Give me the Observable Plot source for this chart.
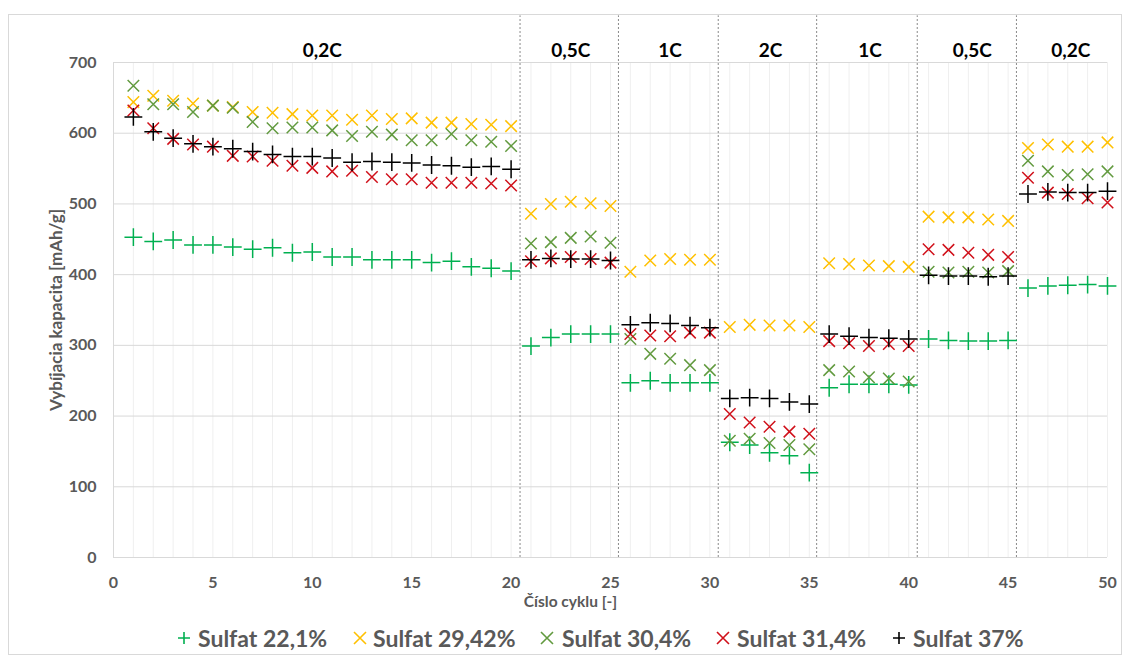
<!DOCTYPE html>
<html>
<head>
<meta charset="utf-8">
<script src="https://cdn.jsdelivr.net/npm/d3@7"></script>
<script src="https://cdn.jsdelivr.net/npm/@observablehq/plot@0.6"></script>
<style>
  body { margin: 0; background: #fff; font-family: Lato, "Open Sans", sans-serif; }
  #wrap { position: relative; width: 1131px; height: 658px; overflow: hidden; background: #fff; }
  #frame { position: absolute; left: 8px; top: 14px; width: 1114px; height: 641px; border: 1px solid #d9d9d9; box-sizing: border-box; }
  #chart { position: absolute; left: 0; top: 0; }
  #legend { position: absolute; left: 0; top: 624px; width: 1131px; height: 28px; font-weight: bold; font-size: 23px; color: #595959; }
  .item { position: absolute; top: 0; height: 28px; display: flex; align-items: center; white-space: nowrap; }
  .item svg { display: block; }
  .item span { position: absolute; }
</style>
</head>
<body>
<div id="wrap">
  <div id="frame"></div>
  <div id="chart"></div>
  <div id="legend"></div>
</div>
<script>
// ---------- data ----------
const cycles = d3.range(1, 51);
const seriesNames = ["Sulfat 22,1%", "Sulfat 29,42%", "Sulfat 30,4%", "Sulfat 31,4%", "Sulfat 37%"];
const seriesColors = ["#00B050", "#FFC000", "#629A3F", "#D0101A", "#000000"];
const seriesSymbols = ["plus", "times", "times", "times", "plus"];

const s221 = [453, 447, 449, 442, 442, 439, 436, 438, 431, 432, 425, 425, 421, 421, 421, 417, 419, 411, 409, 405,
              299, 311, 316, 316, 316,
              247, 250, 247, 247, 247,
              163, 159, 148, 144, 120,
              240, 245, 245, 245, 244,
              309, 307, 306, 306, 307,
              381, 384, 385, 386, 384];
const s2942 = [644, 653, 646, 642, 639, 637, 630, 629, 627, 625, 625, 619, 625, 620, 621, 615, 615, 613, 612, 610,
               486, 500, 503, 501, 497,
               404, 420, 422, 421, 421,
               326, 329, 328, 328, 326,
               416, 415, 413, 412, 411,
               482, 481, 481, 478, 476,
               579, 584, 581, 581, 587];
const s304 = [667, 641, 641, 630, 639, 636, 616, 607, 608, 608, 604, 596, 602, 598, 590, 590, 599, 590, 588, 582,
              444, 446, 452, 454, 445,
              309, 288, 281, 272, 265,
              165, 168, 162, 159, 153,
              265, 263, 255, 253, 249,
              404, 403, 404, 403, 405,
              561, 546, 541, 542, 546];
const s314 = [632, 607, 592, 584, 581, 568, 567, 561, 554, 551, 546, 547, 538, 535, 535, 530, 530, 530, 529, 526,
              419, 423, 425, 422, 417,
              316, 314, 313, 318, 318,
              203, 191, 185, 178, 175,
              306, 303, 299, 302, 299,
              436, 435, 431, 428, 425,
              537, 516, 514, 508, 502];
const s37 = [623, 602, 593, 585, 581, 578, 574, 570, 567, 567, 565, 559, 560, 559, 558, 555, 554, 552, 553, 549,
             421, 423, 422, 422, 420,
             329, 332, 331, 328, 325,
             225, 226, 225, 220, 217,
             316, 313, 311, 310, 309,
             399, 398, 398, 397, 398,
             514, 517, 516, 516, 518];
const seriesValues = [s221, s2942, s304, s314, s37];

const rateLabels = ["0,2C", "0,5C", "1C", "2C", "1C", "0,5C", "0,2C"];
const rateLabelX = [10.5, 23.0, 28.0, 33.05, 38.05, 43.2, 48.15];
const dividerX = [20.45, 25.4, 30.42, 35.37, 40.43, 45.42];
const dividerTop = 766;

const xTicks = [0, 5, 10, 15, 20, 25, 30, 35, 40, 45, 50];
const yTicks = [0, 100, 200, 300, 400, 500, 600, 700];
const xMinor = d3.range(0, 51);
const xTitle = "Číslo cyklu [-]";
const yTitle = "Vybíjacia kapacita [mAh/g]";

// ---------- build table ----------
const rows = [];
seriesNames.forEach((name, i) => {
  seriesValues[i].forEach((v, j) => rows.push({series: name, idx: i, cycle: cycles[j], value: v}));
});
const rates = rateLabels.map((t, i) => ({text: t, x: rateLabelX[i]}));

const textColor = "#595959";
const marks = [
  Plot.gridX(xMinor, {stroke: "#efefef", strokeOpacity: 1}),
  Plot.gridY(yTicks, {stroke: "#d9d9d9", strokeOpacity: 1}),
  Plot.ruleX([0], {stroke: "#d9d9d9"}),
  Plot.ruleX(dividerX, {y1: 0, y2: dividerTop, stroke: "#8a8a8a", strokeWidth: 1, strokeDasharray: "2,2"}),
  Plot.axisX(xTicks, {tickSize: 0, tickPadding: 19, fontSize: 16, fontWeight: "bold", color: textColor, label: null}),
  Plot.axisY(yTicks, {tickSize: 0, tickPadding: 17, fontSize: 16, fontWeight: "bold", color: textColor, label: null}),
  Plot.text([xTitle], {frameAnchor: "bottom", textAnchor: "middle", dx: -40, dy: 49, fontSize: 15.5, fontWeight: "bold", fill: textColor}),
  Plot.text([yTitle], {frameAnchor: "left", textAnchor: "middle", rotate: -90, dx: -57, fontSize: 17, fontWeight: "bold", fill: textColor}),
  Plot.text(rates, {x: "x", text: "text", frameAnchor: "top", dy: -19, fontSize: 19, fontWeight: "bold", fill: "#000"})
];
seriesNames.forEach((name, i) => {
  marks.push(Plot.dot(rows.filter(d => d.idx === i), {
    x: "cycle", y: "value",
    symbol: seriesSymbols[i],
    r: seriesSymbols[i] === "plus" ? 5.8 : 5.3,
    stroke: seriesColors[i],
    strokeWidth: 1.5
  }));
});

const chart = Plot.plot({
  width: 1131,
  height: 620,
  marginLeft: 113,
  marginRight: 24,
  marginTop: 62,
  marginBottom: 63,
  style: {fontFamily: "Lato, 'Open Sans', sans-serif", background: "transparent", overflow: "visible"},
  x: {domain: [0, 50]},
  y: {domain: [0, 700]},
  marks
});
document.getElementById("chart").appendChild(chart);

// ---------- legend ----------
const legendMarkerX = [184, 360, 547, 723, 899];
const legendTextX = [198, 373, 562, 737, 913];
const legend = document.getElementById("legend");
seriesNames.forEach((name, i) => {
  const item = document.createElement("div");
  item.className = "item";
  item.style.left = (legendMarkerX[i] - 7) + "px";
  const s = d3.create("svg").attr("width", 14).attr("height", 14);
  const g = s.append("g").attr("transform", "translate(7,7)")
    .attr("stroke", seriesColors[i]).attr("stroke-width", 1.6).attr("fill", "none");
  if (seriesSymbols[i] === "plus") {
    g.append("path").attr("d", "M-6,0H6M0,-6V6");
  } else {
    g.append("path").attr("d", "M-6,-6L6,6M-6,6L6,-6");
  }
  item.appendChild(s.node());
  const t = document.createElement("span");
  t.textContent = name;
  t.style.left = (legendTextX[i] - legendMarkerX[i] + 7) + "px";
  item.appendChild(t);
  legend.appendChild(item);
});
</script>
</body>
</html>
